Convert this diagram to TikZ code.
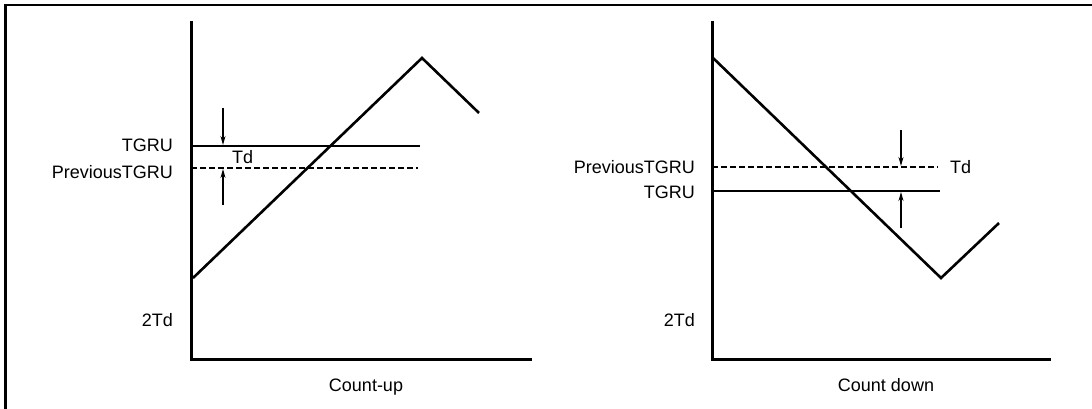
\documentclass[tikz,border=0pt]{standalone}
\usepackage{fontspec}
\setmainfont{Liberation Sans}
\usetikzlibrary{arrows.meta}
\begin{document}
\begin{tikzpicture}[x=1pt,y=-1pt,
  axis/.style={line width=3pt},
  curve/.style={line width=2.6pt,line join=miter},
  level/.style={line width=2.4pt},
  prevlevel/.style={line width=2.4pt,dash pattern=on 5.5pt off 3.5pt},
  gap/.style={line width=1.1pt,-{Stealth[length=9pt,width=5pt]}},
  lbl/.style={font=\fontsize{18}{20}\selectfont,inner sep=0pt}]
\useasboundingbox (0,0) rectangle (1092,409);
% frame (left and top edges only)
\draw[line width=2.6pt] (5.5,409) -- (5.5,5) -- (1092,5);

% ---------- Count-up ----------
\coordinate (Lt) at (191,21);
\coordinate (Lo) at (191,359);
\coordinate (Lx) at (532,359);
\draw[axis] (Lt) -- (Lo) -- (Lx);
\coordinate (Lg1) at (191,146);
\coordinate (Lg2) at (420,146);
\coordinate (Lp1) at (191,168);
\coordinate (Lp2) at (418,168);
\draw[level] (Lg1) -- (Lg2);
\draw[prevlevel] (Lp1) -- (Lp2);
\coordinate (Ls) at (193,278);
\coordinate (Lpk) at (422,58);
\coordinate (Le) at (479,113);
\draw[curve] (Ls) -- (Lpk) -- (Le);
\coordinate (Lda) at (223,108);
\coordinate (Ldb) at (223,145);
\coordinate (Lua) at (223,205);
\coordinate (Lub) at (223,169);
\draw[gap] (Lda) -- (Ldb);
\draw[gap] (Lua) -- (Lub);
\node[lbl,anchor=base east] (LTG) at (173,151) {TGRU};
\node[lbl,anchor=base east] (LPT) at (173,178) {PreviousTGRU};
\node[lbl,anchor=base west] (LTd) at (232,163) {Td};
\node[lbl,anchor=base east] (L2T) at (173,326) {2Td};
\node[lbl,anchor=base] (Lcap) at (366,391) {Count-up};

% ---------- Count down ----------
\coordinate (Rt) at (712,21);
\coordinate (Ro) at (712,359);
\coordinate (Rx) at (1051,359);
\draw[axis] (Rt) -- (Ro) -- (Rx);
\coordinate (Rp1) at (712,167);
\coordinate (Rp2) at (938,167);
\coordinate (Rg1) at (712,191);
\coordinate (Rg2) at (940,191);
\draw[prevlevel] (Rp1) -- (Rp2);
\draw[level] (Rg1) -- (Rg2);
\coordinate (Rs) at (712,57);
\coordinate (Rlo) at (941,278);
\coordinate (Re) at (999,223);
\draw[curve] (Rs) -- (Rlo) -- (Re);
\coordinate (Rda) at (901,130);
\coordinate (Rdb) at (901,166);
\coordinate (Rua) at (901,228);
\coordinate (Rub) at (901,192);
\draw[gap] (Rda) -- (Rdb);
\draw[gap] (Rua) -- (Rub);
\node[lbl,anchor=base east] (RPT) at (695,173) {PreviousTGRU};
\node[lbl,anchor=base east] (RTG) at (695,198) {TGRU};
\node[lbl,anchor=base west] (RTd) at (950,173) {Td};
\node[lbl,anchor=base east] (R2T) at (695,326) {2Td};
\node[lbl,anchor=base] (Rcap) at (886,391) {Count down};
\end{tikzpicture}
\end{document}
